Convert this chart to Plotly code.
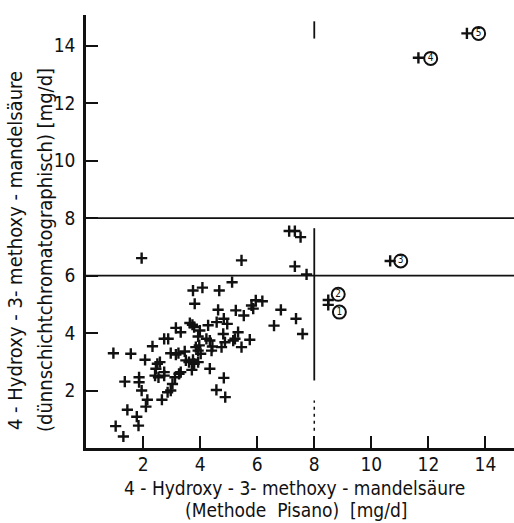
import plotly.graph_objects as go

# ---- data ----
pisano_x = [
    0.96, 1.57, 2.07, 2.33, 2.74, 2.88, 3.32, 2.97, 3.15, 3.24,
    3.50, 3.61, 3.79, 3.85, 3.97, 4.02, 2.50, 2.59, 2.45, 2.42,
    2.54, 2.74, 2.74, 3.12, 3.26, 3.32, 3.03, 2.97, 2.86, 3.71,
    2.66, 2.15, 2.10, 1.86, 1.86, 1.95, 1.36, 1.45, 1.78, 1.84,
    1.04, 1.31, 1.95,
    3.75, 4.08, 4.67, 5.12, 3.81, 4.63, 5.25, 5.53, 5.80, 5.86,
    5.95, 6.18, 3.64, 3.73, 3.79, 3.99, 4.28, 4.58, 4.83, 4.95,
    3.15, 3.93, 4.22, 4.34, 3.93, 4.81, 4.87, 4.75, 4.43, 4.40,
    5.33, 5.22, 5.16, 5.74, 5.45, 3.46, 3.93, 3.75, 4.34, 4.83,
    4.57, 4.88,
    7.12, 7.32, 7.52, 5.45, 7.32, 7.73, 6.83, 7.36, 6.59, 7.59,
]
dc_y = [
    3.30, 3.28, 3.07, 3.54, 3.80, 3.80, 4.03, 3.30, 3.25, 3.30,
    3.05, 2.99, 2.93, 3.51, 3.57, 3.28, 2.93, 2.99, 2.76, 2.52,
    2.46, 2.64, 2.52, 2.46, 2.58, 2.64, 2.23, 2.00, 1.94, 2.72,
    1.68, 1.68, 1.44, 2.46, 2.29, 2.00, 2.31, 1.33, 1.09, 0.78,
    0.76, 0.40, 6.61,
    5.48, 5.58, 5.48, 5.77, 5.02, 4.81, 4.79, 4.61, 4.96, 4.85,
    5.14, 5.11, 4.35, 4.29, 4.21, 4.09, 4.27, 4.38, 4.50, 4.32,
    4.18, 3.88, 3.80, 3.74, 3.39, 3.97, 3.68, 3.51, 3.53, 3.39,
    4.03, 3.80, 3.74, 3.77, 3.51, 3.36, 2.99, 3.07, 2.76, 2.44,
    2.02, 1.77,
    7.55, 7.55, 7.34, 6.53, 6.32, 6.04, 4.81, 4.50, 4.26, 3.97,
]

# numbered (circled) cases
case_x = [8.49, 8.49, 10.66, 11.65, 13.35]
case_y = [5.15, 4.98, 6.51, 13.58, 14.43]
label_text = ["1", "2", "3", "4", "5"]
label_x = [8.88, 8.84, 11.03, 12.08, 13.76]
label_y = [4.73, 5.35, 6.51, 13.56, 14.43]

# reference limits
limit_lo = 6
limit_hi = 8
x_limit = 8
vline_solid = [2.35, 7.65]
vline_dash = [0.6, 1.65]
vline_top = [14.25, 14.85]

x_ticks = [2, 4, 6, 8, 10, 12, 14]
y_ticks = [2, 4, 6, 8, 10, 12, 14]

FONT = "DejaVu Sans Condensed, DejaVu Sans, sans-serif"
BLACK = "#111111"

fig = go.Figure()

fig.add_trace(go.Scatter(
    x=pisano_x + case_x, y=dc_y + case_y, mode="markers",
    marker=dict(symbol="cross-thin", size=8, color=BLACK,
                line=dict(width=2.4, color=BLACK)),
    showlegend=False, hoverinfo="skip"))

fig.add_trace(go.Scatter(
    x=label_x, y=label_y, mode="markers+text", text=label_text,
    textposition="middle center",
    textfont=dict(family=FONT, size=10, color=BLACK),
    marker=dict(symbol="circle-open", size=13, color=BLACK,
                line=dict(width=2, color=BLACK)),
    showlegend=False, hoverinfo="skip"))

line_style = dict(color=BLACK, width=1.8)
for yv in (limit_lo, limit_hi):
    fig.add_shape(type="line", xref="x", yref="y", x0=0, x1=15.2, y0=yv, y1=yv,
                  line=line_style)
fig.add_shape(type="line", xref="x", yref="y", x0=x_limit, x1=x_limit,
              y0=vline_solid[0], y1=vline_solid[1], line=line_style)
fig.add_shape(type="line", xref="x", yref="y", x0=x_limit, x1=x_limit,
              y0=vline_dash[0], y1=vline_dash[1],
              line=dict(color=BLACK, width=1.5, dash="3px,4px"))
fig.add_shape(type="line", xref="x", yref="y", x0=x_limit, x1=x_limit,
              y0=vline_top[0], y1=vline_top[1], line=line_style)

axis_common = dict(
    showgrid=False, zeroline=False, showline=True, linecolor=BLACK, linewidth=2.5,
    ticks="inside", ticklen=12, tickwidth=2, tickcolor=BLACK,
    tickfont=dict(family=FONT, size=19, color=BLACK),
)
fig.update_xaxes(range=[0, 15.0], tickvals=x_ticks, ticklabelstandoff=-3, **axis_common)
fig.update_yaxes(range=[0, 15.07], tickvals=y_ticks, ticklabelstandoff=4, **axis_common)

title_font = dict(family=FONT, size=19, color=BLACK)
fig.add_annotation(text="4 - Hydroxy - 3- methoxy - mandelsäure", xref="paper", yref="paper",
                   x=0.486, y=-0.092, showarrow=False, font=title_font,
                   xanchor="center", yanchor="middle")
fig.add_annotation(text="(Methode  Pisano)  [mg/d]", xref="paper", yref="paper",
                   x=0.491, y=-0.143, showarrow=False, font=title_font,
                   xanchor="center", yanchor="middle")
fig.add_annotation(text="4 - Hydroxy - 3- methoxy - mandelsäure", xref="paper", yref="paper",
                   x=-0.166, y=0.457, showarrow=False, font=dict(family=FONT, size=20, color=BLACK),
                   textangle=-90, xanchor="center", yanchor="middle")
fig.add_annotation(text="(dünnschichtchromatographisch) [mg/d]", xref="paper", yref="paper",
                   x=-0.096, y=0.457, showarrow=False, font=dict(family=FONT, size=20, color=BLACK),
                   textangle=-90, xanchor="center", yanchor="middle")

fig.update_layout(
    width=514, height=523,
    margin=dict(l=86, r=0, t=15, b=75),
    paper_bgcolor="white", plot_bgcolor="white",
    showlegend=False,
)

fig.write_html("out.html", config={"displayModeBar": False},
               post_script="document.body.style.margin='0';document.body.style.padding='0';")
